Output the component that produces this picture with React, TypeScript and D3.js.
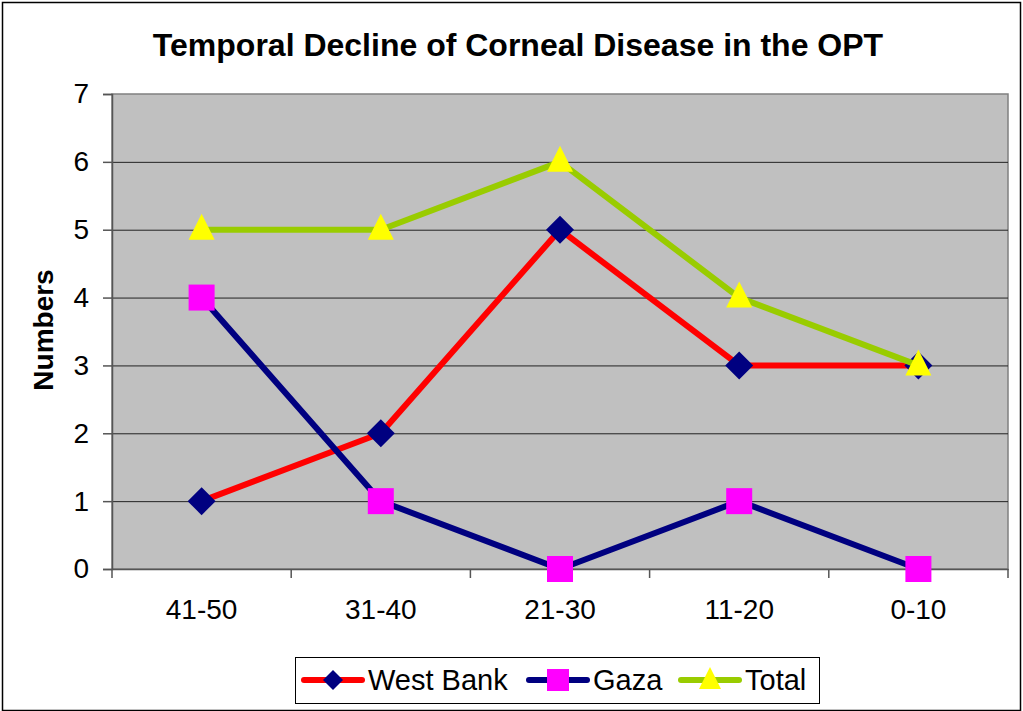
import React, { useEffect, useRef } from 'react';
import * as d3 from 'd3';

// Age groups along the x axis
const categories = ['41-50', '31-40', '21-30', '11-20', '0-10'];

// Series values
const westBank = [1, 2, 5, 3, 3];
const gaza = [4, 1, 0, 1, 0];
const total = [5, 5, 6, 4, 3];

const yTicks = [0, 1, 2, 3, 4, 5, 6, 7];

const seriesNames = ['West Bank', 'Gaza', 'Total'];

const App = () => {
  const ref = useRef<SVGSVGElement>(null);

  useEffect(() => {
    const svg = d3.select(ref.current);
    svg.selectAll('*').remove();

    const width = 1023;
    const height = 711;
    const font = '"Liberation Sans", Arial, sans-serif';

    // Plot area bounds
    const left = 112;
    const right = 1008;
    const top = 94;
    const bottom = 569;

    const series = [
      { name: seriesNames[0], values: westBank, line: '#FF0000', fill: '#000080', shape: 'diamond' },
      { name: seriesNames[1], values: gaza, line: '#000080', fill: '#FF00FF', shape: 'square' },
      { name: seriesNames[2], values: total, line: '#99CC00', fill: '#FFFF00', shape: 'triangle' },
    ];

    const xScale = d3.scaleBand().domain(categories).range([left, right]);
    const yScale = d3.scaleLinear().domain([0, 7]).range([bottom, top]);
    const cx = (c: string) => (xScale(c) as number) + xScale.bandwidth() / 2;

    // White background + outer border
    svg
      .append('rect')
      .attr('x', 2.5)
      .attr('y', 2.5)
      .attr('width', width - 5)
      .attr('height', height - 3)
      .attr('fill', '#fff')
      .attr('stroke', '#000')
      .attr('stroke-width', 1.5);

    // Plot background
    svg
      .append('rect')
      .attr('x', left)
      .attr('y', top)
      .attr('width', right - left)
      .attr('height', bottom - top)
      .attr('fill', '#C0C0C0')
      .attr('stroke', '#808080')
      .attr('stroke-width', 1.5);

    // Gridlines
    svg
      .append('g')
      .selectAll('line')
      .data(yTicks.slice(1, -1))
      .enter()
      .append('line')
      .attr('x1', left)
      .attr('x2', right)
      .attr('y1', (d) => yScale(d) + 0.5)
      .attr('y2', (d) => yScale(d) + 0.5)
      .attr('stroke', '#222')
      .attr('stroke-width', 1);

    // Y axis
    const yAxis = svg
      .append('g')
      .attr('transform', `translate(${left}, 0)`)
      .call(d3.axisLeft(yScale).tickValues(yTicks).tickSize(9).tickPadding(14).tickFormat(d3.format('d')));
    yAxis.select('.domain').attr('stroke', '#555').attr('stroke-width', 1.5);
    yAxis.selectAll('.tick line').attr('stroke', '#555').attr('stroke-width', 1.5);
    yAxis
      .selectAll('.tick text')
      .style('font-family', font)
      .style('font-size', '28px')
      .attr('fill', '#000');

    // X axis
    const xAxis = svg
      .append('g')
      .attr('transform', `translate(0, ${bottom})`)
      .call(d3.axisBottom(xScale).tickSize(0).tickPadding(30));
    xAxis.select('.domain').attr('stroke', '#555').attr('stroke-width', 1.5);
    xAxis
      .selectAll('.tick text')
      .style('font-family', font)
      .style('font-size', '28px')
      .attr('fill', '#000');

    // Category separator ticks
    const boundaries = categories.map((c) => xScale(c) as number).concat([right]);
    svg
      .append('g')
      .selectAll('line')
      .data(boundaries)
      .enter()
      .append('line')
      .attr('x1', (d) => d)
      .attr('x2', (d) => d)
      .attr('y1', bottom)
      .attr('y2', bottom + 9)
      .attr('stroke', '#555')
      .attr('stroke-width', 1.5);

    const drawMarker = (g: any, shape: string, x: number, y: number, fill: string) => {
      if (shape === 'diamond') {
        g.append('path')
          .attr('d', `M${x},${y - 14}L${x + 14},${y}L${x},${y + 14}L${x - 14},${y}Z`)
          .attr('fill', fill);
      } else if (shape === 'square') {
        g.append('rect')
          .attr('x', x - 13)
          .attr('y', y - 13)
          .attr('width', 26)
          .attr('height', 26)
          .attr('fill', fill);
      } else {
        g.append('path')
          .attr('d', `M${x},${y - 16}L${x + 13},${y + 10}L${x - 13},${y + 10}Z`)
          .attr('fill', fill);
      }
    };

    // Series lines and markers
    const line = d3
      .line<number>()
      .x((d, i) => cx(categories[i]))
      .y((d) => yScale(d));

    series.forEach((s) => {
      const g = svg.append('g');
      g.append('path')
        .attr('d', line(s.values))
        .attr('fill', 'none')
        .attr('stroke', s.line)
        .attr('stroke-width', 6)
        .attr('stroke-linejoin', 'round');
      s.values.forEach((v, i) => drawMarker(g, s.shape, cx(categories[i]), yScale(v), s.fill));
    });

    // Title
    svg
      .append('text')
      .attr('x', 518)
      .attr('y', 56)
      .attr('text-anchor', 'middle')
      .style('font-family', font)
      .style('font-size', '32px')
      .style('font-weight', 'bold')
      .text('Temporal Decline of Corneal Disease in the OPT');

    // Y axis title
    svg
      .append('text')
      .attr('transform', `translate(53, 330) rotate(-90)`)
      .attr('text-anchor', 'middle')
      .style('font-family', font)
      .style('font-size', '28px')
      .style('font-weight', 'bold')
      .text('Numbers');

    // Legend
    const legend = svg.append('g');
    legend
      .append('rect')
      .attr('x', 295.5)
      .attr('y', 657.5)
      .attr('width', 524)
      .attr('height', 46)
      .attr('fill', '#fff')
      .attr('stroke', '#000')
      .attr('stroke-width', 1);

    const legendX = [301, 526, 678];
    series.forEach((s, i) => {
      const x0 = legendX[i];
      const ly = 680;
      legend
        .append('line')
        .attr('x1', x0 + 3)
        .attr('x2', x0 + 61)
        .attr('y1', ly)
        .attr('y2', ly)
        .attr('stroke', s.line)
        .attr('stroke-width', 6)
        .attr('stroke-linecap', 'round');
      const mg = legend.append('g');
      if (s.shape === 'diamond') {
        mg.append('path')
          .attr('d', `M${x0 + 32},${ly - 10}L${x0 + 42},${ly}L${x0 + 32},${ly + 10}L${x0 + 22},${ly}Z`)
          .attr('fill', s.fill);
      } else if (s.shape === 'square') {
        mg.append('rect')
          .attr('x', x0 + 21)
          .attr('y', ly - 11)
          .attr('width', 22)
          .attr('height', 22)
          .attr('fill', s.fill);
      } else {
        mg.append('path')
          .attr('d', `M${x0 + 32},${ly - 13}L${x0 + 43},${ly + 9}L${x0 + 21},${ly + 9}Z`)
          .attr('fill', s.fill);
      }
      legend
        .append('text')
        .attr('x', x0 + 67)
        .attr('y', ly + 10)
        .style('font-family', font)
        .style('font-size', '29px')
        .text(s.name);
    });
  }, []);

  return (
    <div>
      <svg
        ref={ref}
        width="1023"
        height="711"
        style={{ position: 'absolute', left: 0, top: 0 }}
      ></svg>
    </div>
  );
};

export default App;
